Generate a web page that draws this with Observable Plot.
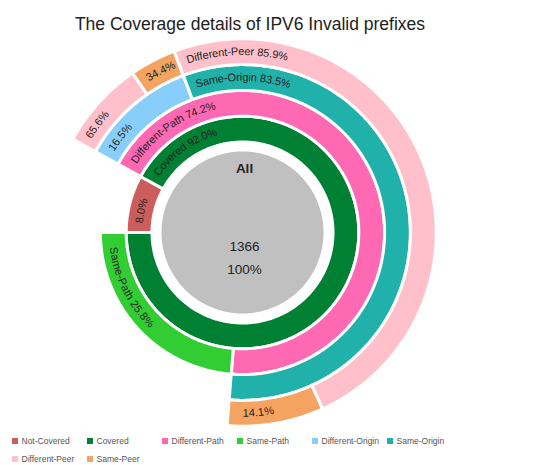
<!DOCTYPE html>
<html>
<head>
<meta charset="utf-8">
<script src="https://cdn.jsdelivr.net/npm/d3@7"></script>
<script src="https://cdn.jsdelivr.net/npm/@observablehq/plot@0.6"></script>
<style>
  body { margin: 0; background: white; font-family: "Liberation Sans", Arial, sans-serif; }
  #title { height: 40px; box-sizing: border-box; padding-top: 16px; width: 500px; text-align: center; font-size: 17.5px; line-height: 17.5px; color: #222; }
  #legend { display: grid; grid-template-columns: repeat(6, 75px); grid-auto-rows: 18px; margin-left: 12px; padding-top: 2px; font-size: 8.5px; color: #555; }
  .item { display: flex; align-items: center; white-space: nowrap; }
  .sw { width: 6px; height: 6px; margin-right: 3.5px; flex: none; }
</style>
</head>
<body>
<div id="title">The Coverage details of IPV6 Invalid prefixes</div>
<div id="chart"></div>
<div id="legend"></div>
<script>
// datos: cada nodo con su padre y su % respecto al padre
const total = 1366
const names = ["Not-Covered", "Covered", "Different-Path", "Same-Path", "Different-Origin", "Same-Origin",
               "Different-Peer", "Same-Peer", "Different-Peer", "Same-Peer"]
const parents = [null, null, "Covered", "Covered", "Different-Path", "Different-Path",
                 "Different-Origin", "Different-Origin", "Same-Origin", "Same-Origin"]
const percents = [8.0, 92.0, 74.2, 25.8, 16.5, 83.5, 65.6, 34.4, 85.9, 14.1]
const coreLabels = ["All", String(total), "100%"]

const categories = ["Not-Covered", "Covered", "Different-Path", "Same-Path", "Different-Origin", "Same-Origin", "Different-Peer", "Same-Peer"]
const colors = ["#cd5c5c", "#008033", "#ff69b4", "#32cd32", "#87cefa", "#20b2aa", "#ffc0cb", "#f4a460"]

const startAngle = 270 // grados, sentido horario desde arriba
const coreRadius = 81, ringInner = 90.5, ringWidth = 25.8
const rad = Math.PI / 180

// armamos los segmentos (angulos a partir de los porcentajes)
const cursor = {root: startAngle}, spanOf = {root: 360}, depthOf = {root: 0}
const segs = names.map((name, i) => {
  const p = parents[i] ?? "root"
  const a0 = cursor[p]
  const span = spanOf[p] * percents[i] / 100
  cursor[p] = a0 + span
  const depth = depthOf[p] + 1
  cursor[name] = a0; spanOf[name] = span; depthOf[name] = depth
  const r0 = ringInner + (depth - 1) * ringWidth
  return {id: i, name, pct: percents[i], a0, a1: a0 + span, span, r0, r1: r0 + ringWidth}
})

// poligonos de cada arco
const pts = []
segs.forEach(d => {
  const n = Math.max(2, Math.ceil(d.span))
  for (let k = 0; k <= n; k++) {
    const a = (d.a0 + d.span * k / n) * rad
    pts.push({id: d.id, name: d.name, x: d.r1 * Math.sin(a), y: d.r1 * Math.cos(a)})
  }
  for (let k = n; k >= 0; k--) {
    const a = (d.a0 + d.span * k / n) * rad
    pts.push({id: d.id, name: d.name, x: d.r0 * Math.sin(a), y: d.r0 * Math.cos(a)})
  }
})
const corePts = d3.range(0, 360, 1).map(a => ({x: coreRadius * Math.sin(a * rad), y: coreRadius * Math.cos(a * rad)}))

// etiquetas curvas sobre cada arco (textPath)
function arcLabels(index, scales) {
  const {x, y} = scales
  const ctx = document.createElement("canvas").getContext("2d")
  ctx.font = "11px 'Liberation Sans', Arial, sans-serif"
  const g = d3.create("svg:g").attr("font-size", 11).attr("fill", "#222").attr("text-anchor", "start")
  segs.forEach((d, i) => {
    const rm = (d.r0 + d.r1) / 2
    const rp = x(rm) - x(0)
    const arcLen = rp * d.span * rad
    const pctTxt = `${d.pct.toFixed(1)}%`
    const full = `${d.name} ${pctTxt}`
    const label = ctx.measureText(full).width + 18 <= arcLen ? full : pctTxt
    const s = ((d.a0 % 360) + 360) % 360
    const flip = s > 90 && s < 270
    const from = flip ? d.a1 : d.a0, to = flip ? d.a0 : d.a1
    const px = a => x(rm * Math.sin(a * rad)), py = a => y(rm * Math.cos(a * rad))
    const path = `M${px(from)},${py(from)}A${rp},${rp} 0 ${d.span > 180 ? 1 : 0} ${flip ? 0 : 1} ${px(to)},${py(to)}`
    const id = "arc-label-" + i
    g.append("path").attr("id", id).attr("d", path).attr("fill", "none")
    g.append("text").attr("dy", "0.35em").attr("text-anchor", "start")
      .append("textPath").attr("href", "#" + id).attr("startOffset", flip ? 15 : 9).text(label)
  })
  return g.node()
}

let chart = Plot.plot({
  width: 537,
  height: 390,
  margin: 0,
  x: {domain: [-242, 295], axis: null},
  y: {domain: [-198, 192], axis: null},
  color: {domain: categories, range: colors},
  style: {fontFamily: "'Liberation Sans', Arial, sans-serif", background: "white"},
  marks: [
    Plot.line(corePts, {x: "x", y: "y", fill: "#c0c0c0", stroke: "none", curve: "linear-closed"}),
    Plot.line(pts, {x: "x", y: "y", z: "id", fill: "name", stroke: "white", strokeWidth: 3, curve: "linear-closed"}),
    arcLabels,
    Plot.text([coreLabels[0]], {x: () => 0, y: () => 0, text: d => d, dx: 2, dy: -64, fontSize: 13.5, fontWeight: "bold", fill: "#222"}),
    Plot.text([coreLabels[1]], {x: () => 0, y: () => 0, text: d => d, dx: 2, dy: 14, fontSize: 13.5, fill: "#222"}),
    Plot.text([coreLabels[2]], {x: () => 0, y: () => 0, text: d => d, dx: 2, dy: 37, fontSize: 13.5, fill: "#222"}),
  ]
})
d3.select('#chart').append(() => chart)

// leyenda
const items = d3.select('#legend').selectAll('.item').data(categories).join('div').attr('class', 'item')
items.append('span').attr('class', 'sw').style('background', (d, i) => colors[i])
items.append('span').text(d => d)
</script>
</body>
</html>
